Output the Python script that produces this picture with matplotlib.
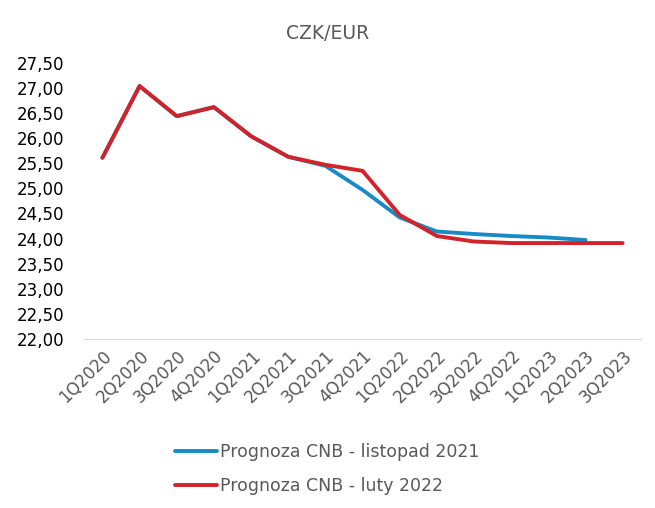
import matplotlib.pyplot as plt
from matplotlib.ticker import FuncFormatter
import numpy as np

plt.rcParams["font.family"] = ["DejaVu Sans"]

quarters = ["1Q2020", "2Q2020", "3Q2020", "4Q2020", "1Q2021", "2Q2021", "3Q2021", "4Q2021",
            "1Q2022", "2Q2022", "3Q2022", "4Q2022", "1Q2023", "2Q2023", "3Q2023"]
nov_2021 = [25.61, 27.04, 26.44, 26.62, 26.04, 25.63, 25.45, 24.97,
            24.42, 24.14, 24.09, 24.05, 24.02, 23.97]
feb_2022 = [25.61, 27.04, 26.44, 26.62, 26.04, 25.63, 25.47, 25.35,
            24.47, 24.05, 23.94, 23.91, 23.91, 23.91, 23.91]

gray = "#595959"

fig = plt.figure(figsize=(6.55, 5.08), dpi=100)
ax = fig.add_axes([0.128, 0.333, 0.851, 0.543])

x = np.arange(len(quarters))
ax.plot(x[:len(nov_2021)], nov_2021, color="#1A8AC6", lw=2.8, label="Prognoza CNB - listopad 2021",
        solid_capstyle="round")
ax.plot(x, feb_2022, color="#D0232A", lw=2.8, label="Prognoza CNB - luty 2022",
        solid_capstyle="round")

ax.set_xlim(-0.5, len(quarters) - 0.5)
ax.set_ylim(22, 27.5)
ax.set_yticks(np.arange(22, 27.51, 0.5))
ax.yaxis.set_major_formatter(FuncFormatter(lambda v, p: f"{v:.2f}".replace(".", ",")))
ax.set_xticks(x)
ax.set_xticklabels(quarters, rotation=45, ha="right", rotation_mode="anchor", color=gray)

for s in ["top", "right", "left"]:
    ax.spines[s].set_visible(False)
ax.spines["bottom"].set_color("#D9D9D9")
ax.tick_params(axis="both", length=0, labelsize=12)
ax.tick_params(axis="y", pad=14, labelcolor="black")
ax.tick_params(axis="x", pad=6)

fig.text(0.5, 0.935, "CZK/EUR", ha="center", va="center", fontsize=13.5, color=gray)

leg = fig.legend(loc="center", bbox_to_anchor=(0.5, 0.077), ncol=1, frameon=False,
                 fontsize=12.5, handlelength=2.4, handletextpad=0.2, labelspacing=0.9)
for t in leg.get_texts():
    t.set_color(gray)

fig.savefig("out.png", dpi=100)
